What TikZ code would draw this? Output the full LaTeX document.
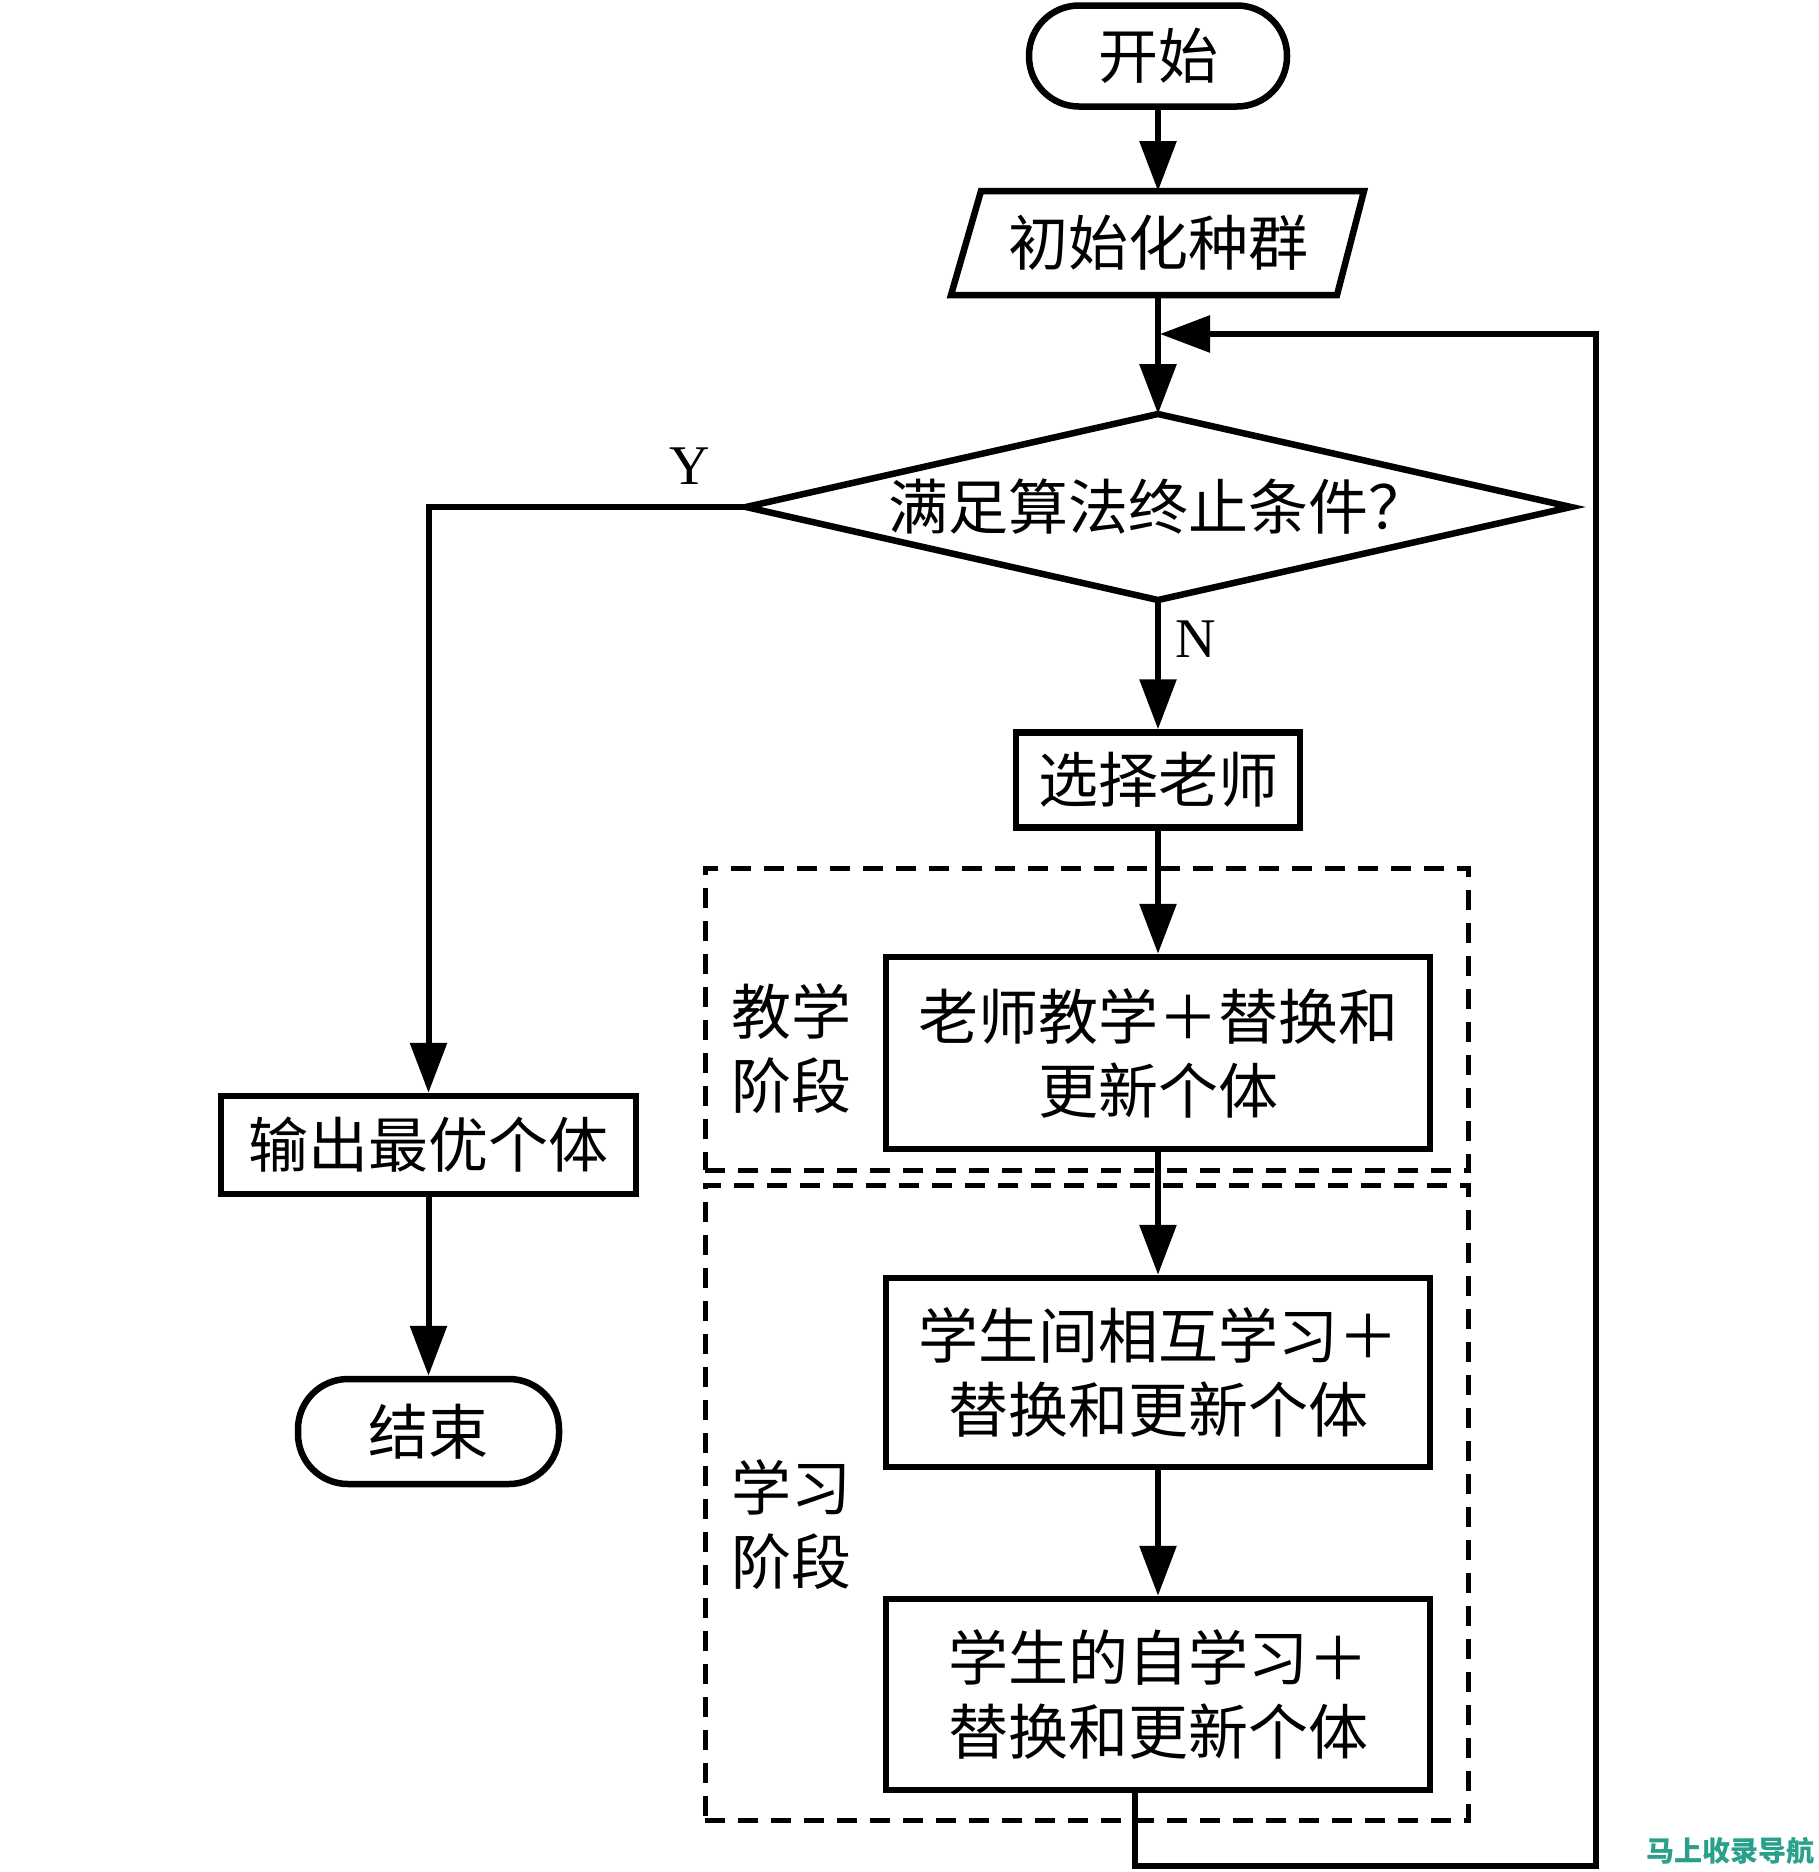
\documentclass[tikz,border=0pt]{standalone}
\usepackage{fontspec}
\setmainfont{Noto Sans CJK SC}
\newfontfamily\tnr{Liberation Serif}
\usetikzlibrary{arrows.meta}
\definecolor{wm}{RGB}{40,160,140}
\begin{document}
\begin{tikzpicture}[x=1pt,y=-1pt,
  line width=6pt,
  arr/.style={-{Triangle[length=50pt,width=36pt]}},
  txt/.style={font=\fontsize{60}{74}\selectfont, align=center, inner sep=0pt},
  boxs/.style={draw, line width=6.5pt, txt},
  phase/.style={draw, line width=5pt, dash pattern=on 20pt off 13pt},
  lab/.style={font=\tnr\fontsize{56}{60}\selectfont, inner sep=0pt}]
\useasboundingbox (0,0) rectangle (1819,1872);

% start terminal
\node[boxs, rounded corners=50pt, minimum width=258pt, minimum height=101pt] (start) at (1158,56) {开始};
% init parallelogram
\coordinate (pBL) at (951,295); \coordinate (pTL) at (981,191);
\coordinate (pTR) at (1364,191); \coordinate (pBR) at (1337,295);
\draw[line width=6.5pt, line join=miter] (pBL) -- (pTL) -- (pTR) -- (pBR) -- cycle;
\node[txt] (init) at (1158,243) {初始化种群};
\coordinate (initT) at (1158,191); \coordinate (initB) at (1158,295);
% decision diamond
\coordinate (dT) at (1158,414); \coordinate (dB) at (1158,600);
\coordinate (dL) at (746,507); \coordinate (dR) at (1571,507);
\draw[line width=6.5pt, line join=miter] (dT) -- (dR) -- (dB) -- (dL) -- cycle;
\node[txt] (dec) at (1158,507) {满足算法终止条件？};
% select teacher
\node[boxs, minimum width=284pt, minimum height=95pt] (sel) at (1158,780) {选择老师};
% phase boxes
\node[phase, minimum width=763pt, minimum height=302pt] (teach) at (1086.5,1019) {};
\node[phase, minimum width=763pt, minimum height=635pt] (learn) at (1086.5,1502.5) {};
\node[txt] (teachlab) at (791,1049) {教学\\阶段};
\node[txt] (learnlab) at (791,1525) {学习\\阶段};
% process boxes
\node[boxs, minimum width=544pt, minimum height=192pt] (tb) at (1158,1053) {老师教学＋替换和\\更新个体};
\node[boxs, minimum width=544pt, minimum height=189pt] (s1) at (1158,1372.5) {学生间相互学习＋\\替换和更新个体};
\node[boxs, minimum width=544pt, minimum height=191pt] (s2) at (1158,1694.5) {学生的自学习＋\\替换和更新个体};
% output and end
\node[boxs, minimum width=415pt, minimum height=98pt] (out) at (428.5,1145) {输出最优个体};
\node[boxs, rounded corners=50pt, minimum width=261pt, minimum height=105pt] (end) at (428.5,1431.5) {结束};

% connectors
\draw[arr] (start.south) -- (initT);
\draw[arr] (initB) -- (dT);
\draw[arr] (dB) -- node[lab, pos=0.3, right=14pt] (nlab) {N} (sel.north);
\draw[arr] (sel.south) -- (tb.north);
\draw[arr] (tb.south) -- (s1.north);
\draw[arr] (s1.south) -- (s2.north);
\draw[arr] (dL) -| (out.north);
\node[lab] (ylab) at (690,466) {Y};
\draw[arr] (out.south) -- (end.north);
\coordinate (loopA) at (1135,1790);
\coordinate (loopB) at (1135,1866);
\coordinate (loopC) at (1596,1866);
\coordinate (loopD) at (1596,334);
\coordinate (loopE) at (1160,334);
\draw[arr, line join=miter] (loopA) -- (loopB) -- (loopC) -- (loopD) -- (loopE);

% watermark
\node[font=\bfseries\fontsize{28}{30}\selectfont, text=wm, inner sep=0pt, anchor=east] (wmk) at (1817,1851) {马上收录导航};
\end{tikzpicture}
\end{document}
